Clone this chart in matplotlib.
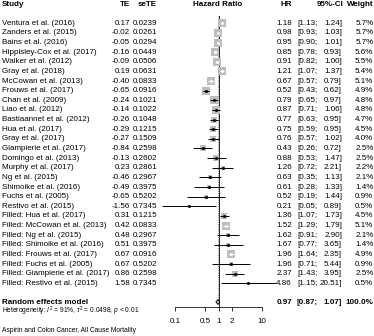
import matplotlib
matplotlib.use('Agg')
import matplotlib.pyplot as plt
import numpy as np

# 字体
plt.rcParams['font.family'] = ['Liberation Sans', 'DejaVu Sans']
plt.rcParams['mathtext.fontset'] = 'custom'
plt.rcParams['mathtext.rm'] = 'Liberation Sans'
plt.rcParams['mathtext.it'] = 'Liberation Sans:italic'

studies = ["Ventura et al. (2016)", "Zanders et al. (2015)", "Bains et al. (2016)",
           "Hippisley-Cox et al. (2017)", "Walker et al. (2012)", "Gray et al. (2018)",
           "McCowan et al. (2013)", "Frouws et al. (2017)", "Chan et al. (2009)",
           "Liao et al. (2012)", "Bastiaannet et al. (2012)", "Hua et al. (2017)",
           "Gray et al. (2017)", "Giampierie et al. (2017)", "Domingo et al. (2013)",
           "Murphy et al. (2017)", "Ng et al. (2015)", "Shimoike et al. (2016)",
           "Fuchs et al. (2005)", "Restivo et al. (2015)",
           "Filled: Hua et al. (2017)", "Filled: McCowan et al. (2013)",
           "Filled: Ng et al. (2015)", "Filled: Shimoike et al. (2016)",
           "Filled: Frouws et al. (2017)", "Filled: Fuchs et al. (2005)",
           "Filled: Giampierie et al. (2017)", "Filled: Restivo et al. (2015)"]
te = [0.17, -0.02, -0.05, -0.16, -0.09, 0.19, -0.40, -0.65, -0.24, -0.14, -0.26, -0.29,
      -0.27, -0.84, -0.13, 0.23, -0.46, -0.49, -0.65, -1.56,
      0.31, 0.42, 0.48, 0.51, 0.67, 0.67, 0.86, 1.58]
sete = [0.0239, 0.0261, 0.0294, 0.0449, 0.0506, 0.0631, 0.0833, 0.0916, 0.1021, 0.1022,
        0.1048, 0.1215, 0.1509, 0.2598, 0.2602, 0.2861, 0.2967, 0.3975, 0.5202, 0.7345,
        0.1215, 0.0833, 0.2967, 0.3975, 0.0916, 0.5202, 0.2598, 0.7345]
hr = [1.18, 0.98, 0.95, 0.85, 0.91, 1.21, 0.67, 0.52, 0.79, 0.87, 0.77, 0.75, 0.76, 0.43,
      0.88, 1.26, 0.63, 0.61, 0.52, 0.21, 1.36, 1.52, 1.62, 1.67, 1.96, 1.96, 2.37, 4.86]
lower = [1.13, 0.93, 0.90, 0.78, 0.82, 1.07, 0.57, 0.43, 0.65, 0.71, 0.63, 0.59, 0.57, 0.26,
         0.53, 0.72, 0.35, 0.28, 0.19, 0.05, 1.07, 1.29, 0.91, 0.77, 1.64, 0.71, 1.43, 1.15]
upper = [1.24, 1.03, 1.01, 0.93, 1.00, 1.37, 0.79, 0.62, 0.97, 1.06, 0.95, 0.95, 1.02, 0.72,
         1.47, 2.21, 1.13, 1.33, 1.44, 0.89, 1.73, 1.79, 2.90, 3.65, 2.35, 5.44, 3.95, 20.51]
weight = [5.7, 5.7, 5.7, 5.6, 5.5, 5.4, 5.1, 4.9, 4.8, 4.8, 4.7, 4.5, 4.0, 2.5, 2.5, 2.2,
          2.1, 1.4, 0.9, 0.5, 4.5, 5.1, 2.1, 1.4, 4.9, 0.9, 2.5, 0.5]
re_hr, re_lo, re_up = 0.97, 0.87, 1.07
ticks = [0.1, 0.5, 1, 2, 10]
tick_labels = ['0.1', '0.5', '1', '2', '10']

fs = 5.8
fs_small = 4.8
row0, step = 23.3, 9.63
ys = row0 + step * np.arange(len(studies))
y_re = 302

fig = plt.figure(figsize=(3.74, 3.36), dpi=100)
tx = fig.add_axes([0, 0, 1, 1])
tx.set_xlim(0, 374)
tx.set_ylim(336, 0)
tx.axis('off')

x_te, x_se = 130, 157
x_hr, x_lo, x_up, x_w = 292, 297, 342, 373.5

# 表头
hy = 5
tx.text(2, hy, 'Study', fontsize=fs, fontweight='bold', va='center')
tx.text(x_te, hy, 'TE', fontsize=fs, fontweight='bold', va='center', ha='right')
tx.text(x_se, hy, 'seTE', fontsize=fs, fontweight='bold', va='center', ha='right')
tx.text(218, hy, 'Hazard Ratio', fontsize=fs, fontweight='bold', va='center', ha='center')
tx.text(x_hr, hy, 'HR', fontsize=fs, fontweight='bold', va='center', ha='right')
tx.text(344, hy, '95%-CI', fontsize=fs, fontweight='bold', va='center', ha='right')
tx.text(x_w, hy, 'Weight', fontsize=fs, fontweight='bold', va='center', ha='right')

for i, y in enumerate(ys):
    tx.text(2, y, studies[i], fontsize=fs, va='center')
    tx.text(x_te, y, '%.2f' % te[i], fontsize=fs, va='center', ha='right')
    tx.text(x_se, y, '%.4f' % sete[i], fontsize=fs, va='center', ha='right')
    tx.text(x_hr, y, '%.2f' % hr[i], fontsize=fs, va='center', ha='right')
    tx.text(x_lo, y, '[%.2f;' % lower[i], fontsize=fs, va='center', ha='left')
    tx.text(x_up, y, '%.2f]' % upper[i], fontsize=fs, va='center', ha='right')
    tx.text(x_w, y, '%.1f%%' % weight[i], fontsize=fs, va='center', ha='right')

# 汇总
tx.text(2, y_re, 'Random effects model', fontsize=fs, fontweight='bold', va='center')
tx.text(x_hr, y_re, '%.2f' % re_hr, fontsize=fs, fontweight='bold', va='center', ha='right')
tx.text(x_lo, y_re, '[%.2f;' % re_lo, fontsize=fs, fontweight='bold', va='center', ha='left')
tx.text(x_up, y_re, '%.2f]' % re_up, fontsize=fs, fontweight='bold', va='center', ha='right')
tx.text(x_w, y_re, '100.0%', fontsize=fs, fontweight='bold', va='center', ha='right')
tx.text(2, 311.5, r'Heterogeneity: $I^2$ = 91%, $\tau^2$ = 0.0498, $p$ < 0.01',
        fontsize=fs_small, va='center')
tx.text(2, 331, 'Aspirin and Colon Cancer, All Cause Mortality', fontsize=fs_small, va='center')

# 森林图
fx = fig.add_axes([175 / 374, (336 - 307) / 336, 87 / 374, 307 / 336])
fx.set_xscale('log')
fx.set_xlim(0.1, 10)
fx.set_ylim(307, 0)
fx.patch.set_alpha(0)
for s in ['top', 'left', 'right']:
    fx.spines[s].set_visible(False)
fx.spines['bottom'].set_linewidth(0.7)
fx.spines['bottom'].set_color('#333333')
fx.set_yticks([])
fx.set_xticks(ticks)
fx.set_xticklabels(tick_labels)
fx.minorticks_off()
fx.tick_params(axis='x', length=3, width=0.7, pad=5, labelsize=fs, colors='#333333')
fx.tick_params(axis='x', labelcolor='black')

fx.plot([1, 1], [16, 307], color='black', lw=0.6, zorder=1)
fx.plot([re_hr, re_hr], [16, y_re - 2.5], color='#555555', lw=0.6, ls=':', zorder=1)

ppx = 87 / 2.0  # 每个数量级的像素
for i, y in enumerate(ys):
    s = 5.4 * weight[i]
    fx.scatter([hr[i]], [y], marker='s', s=s, color='#bdbdbd', lw=0, zorder=2, clip_on=False)
    half = np.sqrt(s) / 2 * 100 / 72
    inside = (np.log10(upper[i] / hr[i]) * ppx < half) and (np.log10(hr[i] / lower[i]) * ppx < half)
    col = 'white' if inside else 'black'
    fx.plot([lower[i], upper[i]], [y, y], color=col, lw=0.7, zorder=3, clip_on=False,
            solid_capstyle='butt')
    fx.plot([hr[i]], [y], marker='s', ms=1.0, color=col, lw=0, zorder=4, clip_on=False)

fx.fill([re_lo, re_hr, re_up, re_hr], [y_re, y_re - 2.5, y_re, y_re + 2.5],
        facecolor='#bdbdbd', edgecolor='black', lw=0.6, zorder=3, clip_on=False)

fig.savefig('out.png', dpi=100)
